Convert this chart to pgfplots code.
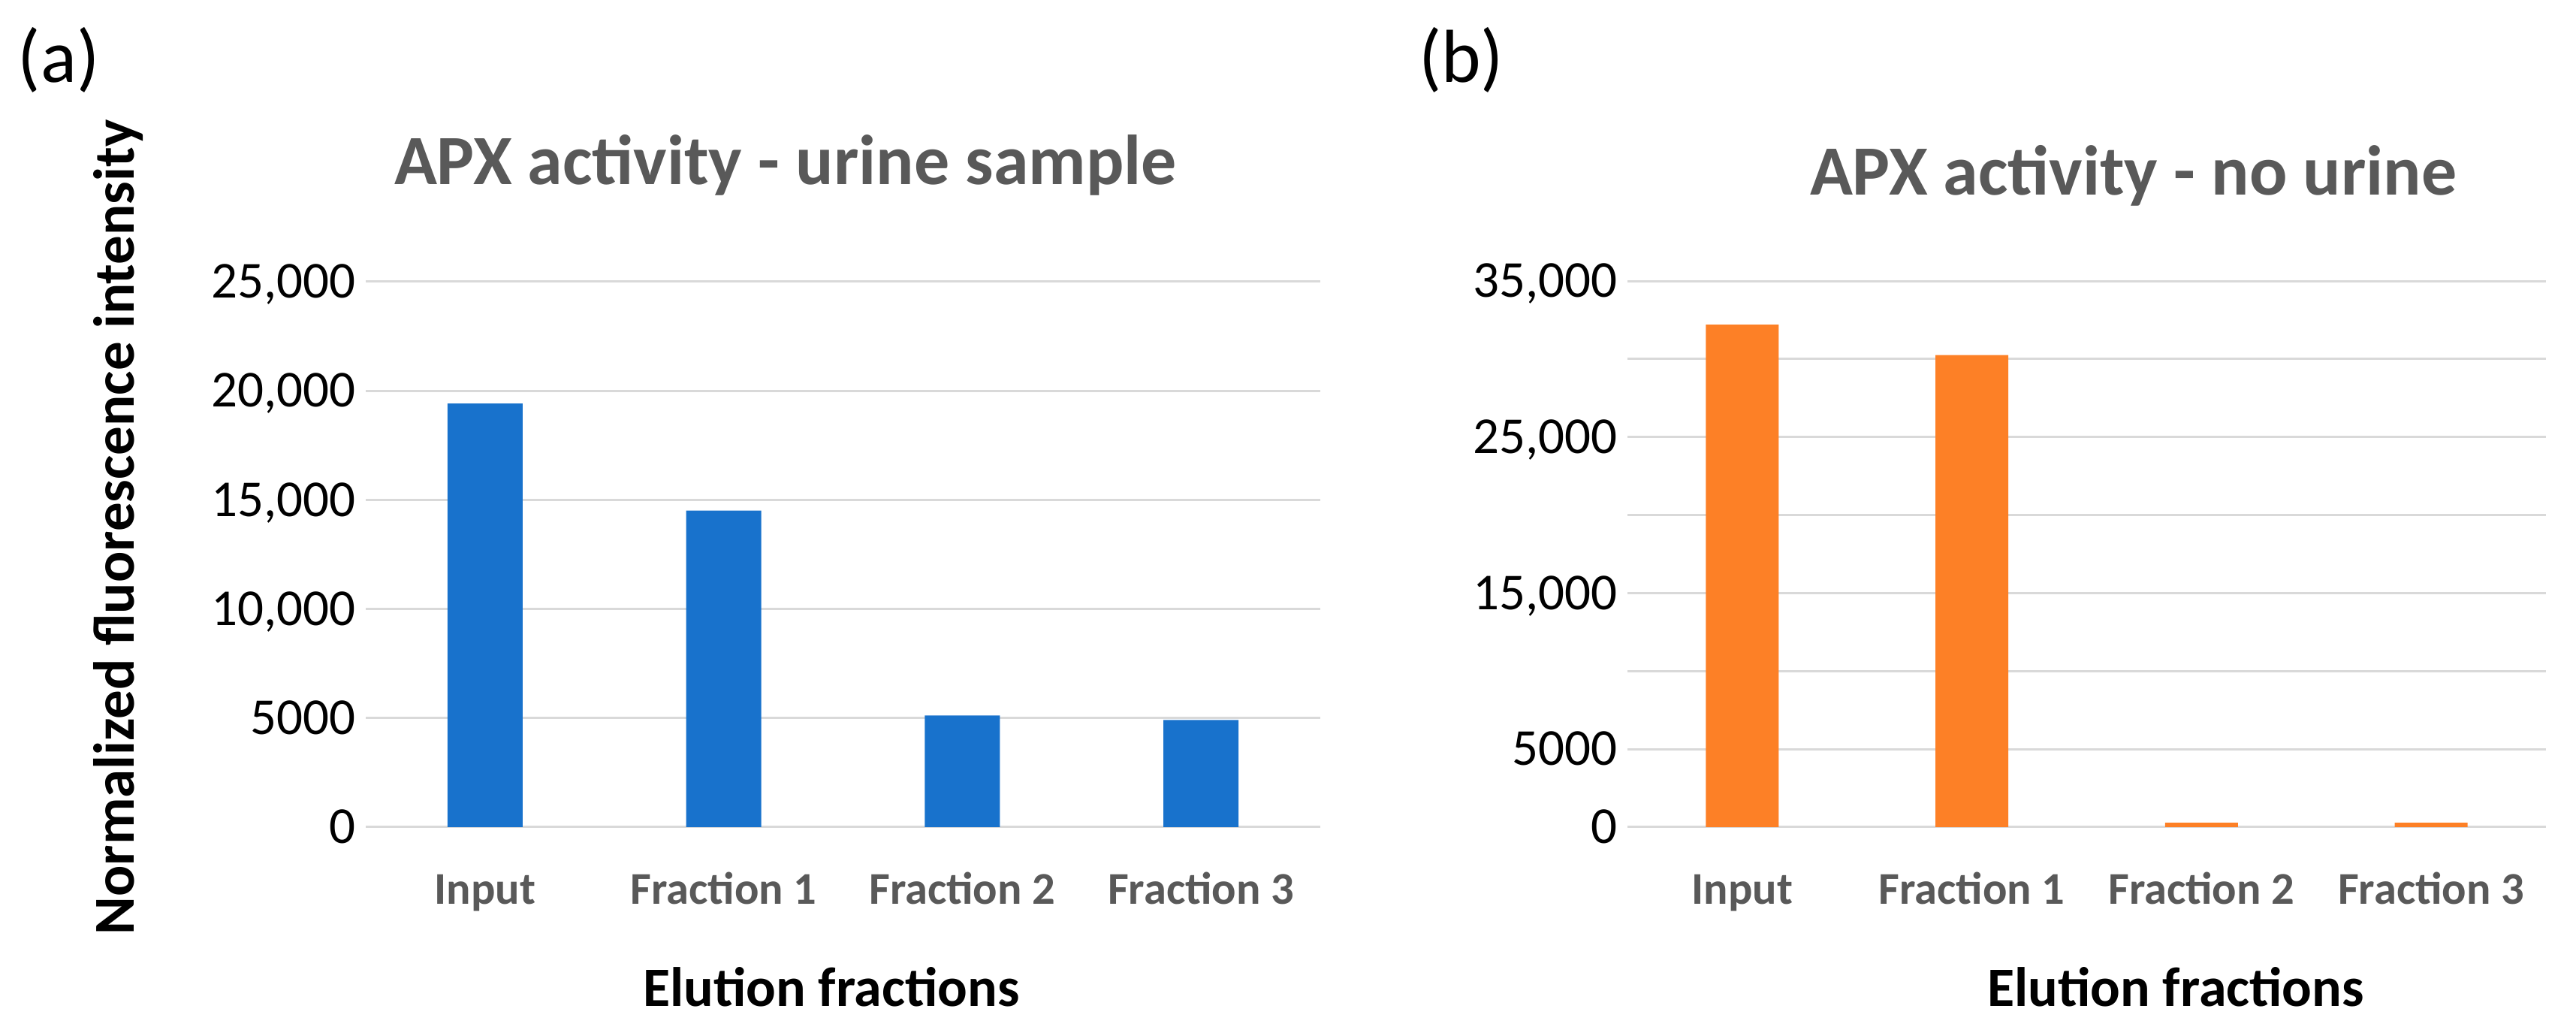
\documentclass[border=0pt]{standalone}
\usepackage{fontspec}
\setmainfont{Carlito}
\usepackage{pgfplots}
\pgfplotsset{compat=1.18}
\definecolor{barblue}{RGB}{24,114,204}
\definecolor{barorange}{RGB}{253,128,38}
\definecolor{titlegray}{RGB}{89,89,89}
\definecolor{gridgray}{RGB}{217,217,217}
\begin{document}
\begin{tikzpicture}[x=1pt,y=1pt]
\useasboundingbox (0pt,0pt) rectangle (686pt,275.8pt);
\pgfplotsset{
  apx/.style={
    scale only axis, anchor=south west,
    xmin=-0.5, xmax=3.5, ymin=0,
    scaled y ticks=false,
    axis line style={draw=none},
    major tick length=0pt,
    xtick={0,1,2,3},
    xticklabels={Input,Fraction 1,Fraction 2,Fraction 3},
    xticklabel style={font=\fontsize{12.1}{14}\selectfont\bfseries, text=titlegray, anchor=base, inner sep=0pt, yshift=-20.6pt},
    yticklabel style={font=\fontsize{13.8}{16}\selectfont, anchor=base east, inner sep=0pt, xshift=-2.5pt, yshift=-4.36pt},
    ymajorgrids, grid style={gridgray, line width=0.6pt},
    ybar, bar shift=0pt,
  }
}
\begin{axis}[apx, at={(97.4pt,55.6pt)}, width=254.2pt, height=145.2pt,
  ymax=25000, ytick={0,5000,10000,15000,20000,25000},
  yticklabels={{0},{5000},{10,000},{15,000},{20,000},{25,000}},
  bar width=20pt]
\addplot[fill=barblue, draw=none] coordinates {(0,19420) (1,14510) (2,5120) (3,4910)};
\end{axis}
\begin{axis}[apx, at={(433.4pt,55.6pt)}, width=244.6pt, height=145.4pt,
  ymax=35000, ytick={0,5000,10000,15000,20000,25000,30000,35000},
  yticklabels={{0},{5000},{},{15,000},{},{25,000},{},{35,000}},
  bar width=19.4pt]
\addplot[fill=barorange, draw=none] coordinates {(0,32200) (1,30250) (2,280) (3,280)};
\end{axis}
\node[anchor=base west, font=\fontsize{20}{24}\selectfont, inner sep=0pt] at (4.6pt,253.8pt) {(a)};
\node[anchor=base west, font=\fontsize{20}{24}\selectfont, inner sep=0pt] at (377.6pt,253.8pt) {(b)};
\node[anchor=base west, font=\fontsize{18.8}{22}\selectfont\bfseries, text=titlegray, inner sep=0pt] at (104.8pt,226.6pt) {APX activity - urine sample};
\node[anchor=base west, font=\fontsize{18.8}{22}\selectfont\bfseries, text=titlegray, inner sep=0pt] at (481.8pt,223.8pt) {APX activity - no urine};
\node[rotate=90, anchor=base, font=\fontsize{15.4}{18}\selectfont\bfseries, inner sep=0pt] at (35.6pt,135.4pt) {Normalized fluorescence intensity};
\node[anchor=base, font=\fontsize{14.8}{18}\selectfont\bfseries, inner sep=0pt] at (221.4pt,7.8pt) {Elution fractions};
\node[anchor=base, font=\fontsize{14.8}{18}\selectfont\bfseries, inner sep=0pt] at (579.4pt,7.8pt) {Elution fractions};
\end{tikzpicture}
\end{document}
